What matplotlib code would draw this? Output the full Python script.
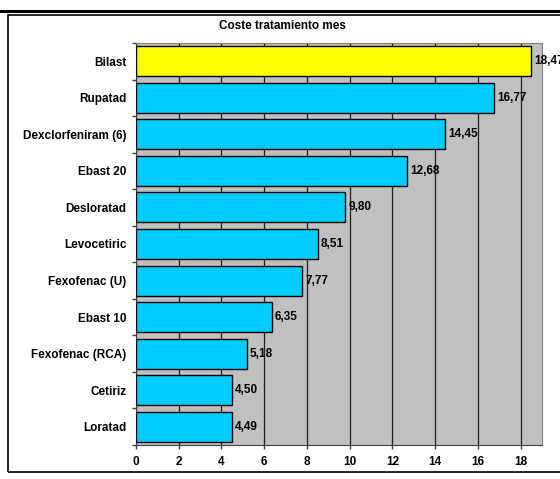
import numpy as np
import matplotlib.pyplot as plt
from matplotlib.patches import Rectangle
from matplotlib.lines import Line2D

plt.rcParams['font.family'] = ['Liberation Sans', 'DejaVu Sans']
plt.rcParams['font.weight'] = 'bold'

farmacos = ['Bilast', 'Rupatad', 'Dexclorfeniram (6)', 'Ebast 20', 'Desloratad',
            'Levocetiric', 'Fexofenac (U)', 'Ebast 10', 'Fexofenac (RCA)', 'Cetiriz', 'Loratad']
coste = [18.47, 16.77, 14.45, 12.68, 9.80, 8.51, 7.77, 6.35, 5.18, 4.50, 4.49]
xticks = [0, 2, 4, 6, 8, 10, 12, 14, 16, 18]

fig = plt.figure(figsize=(5.6, 4.79), dpi=100)
W, H = 560, 479
# plot area in pixels: x 136..542, y 43..445
ax = fig.add_axes([136 / W, 1 - 445 / H, (542 - 136) / W, (445 - 43) / H])
ax.set_facecolor('#C0C0C0')

y = np.arange(len(farmacos))
colores = ['#FFFF00'] + ['#00CCFF'] * (len(farmacos) - 1)
ax.barh(y, coste, height=0.82, color=colores, edgecolor='black', linewidth=1, zorder=3)
for yi, v in zip(y, coste):
    ax.text(v + 0.15, yi, f'{v:.2f}'.replace('.', ','), va='center', ha='left',
            fontsize=8.5, fontweight='bold', zorder=4, clip_on=False)

ax.set_xlim(0, 19)
ax.set_ylim(len(farmacos) - 0.5, -0.5)
ax.set_xticks(xticks)
ax.set_xticklabels([str(t) for t in xticks], fontsize=8.5, fontweight='bold')
ax.tick_params(axis='x', length=3, width=1, pad=5, color='#404040')
ax.grid(axis='x', color='#202020', linewidth=0.9, zorder=1)

# category labels plus tick marks between categories
ax.set_yticks(y)
ax.set_yticklabels(farmacos, fontsize=8.5, fontweight='bold')
ax.tick_params(axis='y', length=0, pad=7)
ax.set_yticks(np.arange(-0.5, len(farmacos)), minor=True)
ax.tick_params(axis='y', which='minor', length=3, width=1, color='#404040')

for s in ['top', 'right']:
    ax.spines[s].set_color('#808080')
for s in ['left', 'bottom']:
    ax.spines[s].set_color('#404040')

fig.text(282 / W, 1 - 26 / H, 'Coste tratamiento mes', ha='center', va='center',
         fontsize=8.5, fontweight='bold')

# outer frame and thick top line
fig.patches.append(Rectangle((8 / W, 1 - 472 / H), 600 / W, (472 - 15) / H,
                             transform=fig.transFigure, fill=False,
                             edgecolor='black', linewidth=1.2))
fig.lines.append(Line2D([0, 1], [1 - 10.5 / H, 1 - 10.5 / H], transform=fig.transFigure,
                        color='black', linewidth=2.2))

fig.savefig('out.png', dpi=100)
